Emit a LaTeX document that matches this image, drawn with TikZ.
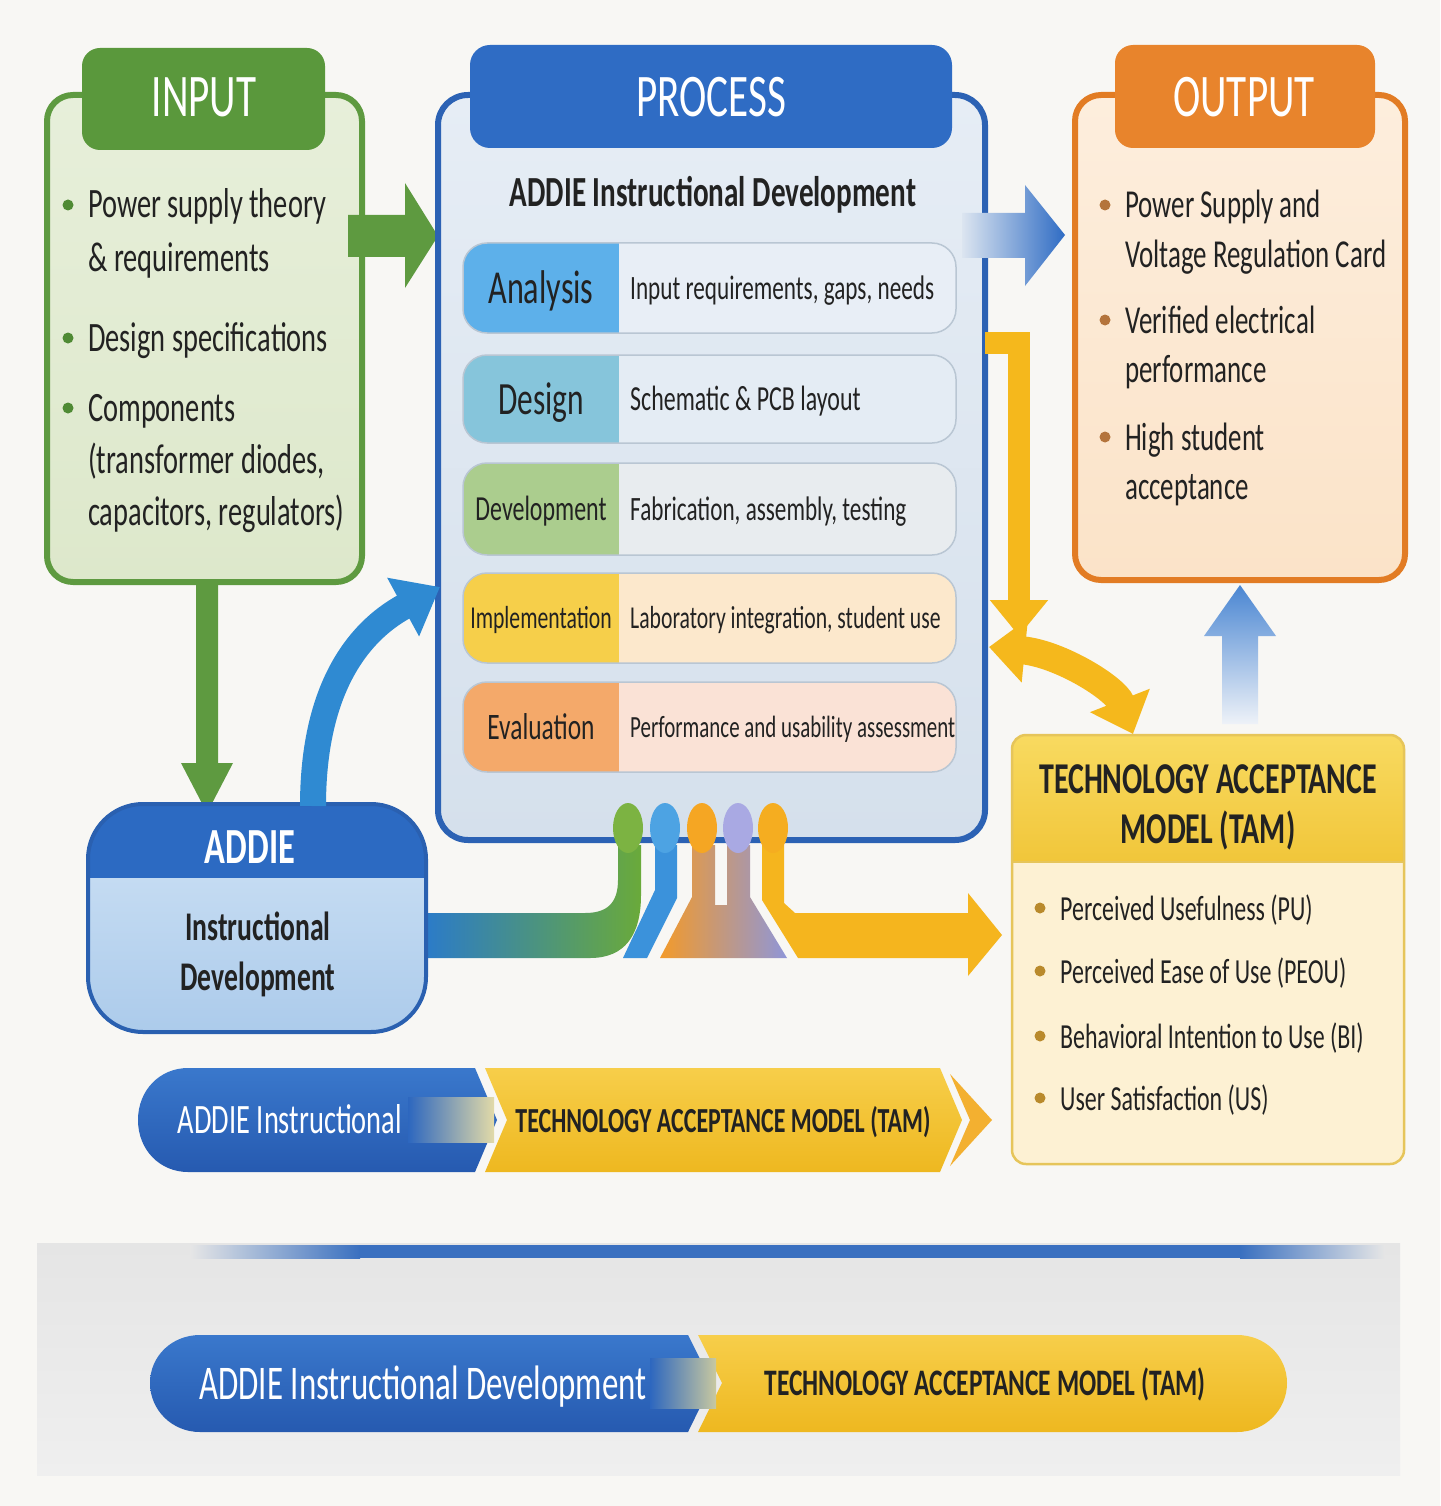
\documentclass[tikz,border=0pt]{standalone}
\usepackage{fontspec}
\setmainfont{Carlito}[FakeStretch=0.68]
\usetikzlibrary{arrows.meta}
\newcommand\fsz[1]{\fontsize{\fpeval{1.1*#1}}{\fpeval{1.1*#1}}\selectfont}
\definecolor{bg}{HTML}{F8F7F4}
\definecolor{ink}{HTML}{222222}
\definecolor{ingreen}{HTML}{5E9A40}
\definecolor{inhead}{HTML}{5A983C}
\definecolor{indot}{HTML}{4F8A34}
\definecolor{procline}{HTML}{2C62B4}
\definecolor{prochead}{HTML}{2F6CC4}
\definecolor{outline}{HTML}{E27C24}
\definecolor{outhead}{HTML}{E8842C}
\definecolor{outdot}{HTML}{B4743C}
\definecolor{yel}{HTML}{F5B81C}
\definecolor{tambody}{HTML}{FDF1D3}
\definecolor{tamborder}{HTML}{E6C55A}
\definecolor{tamdot}{HTML}{B98A2C}
\definecolor{banblue}{HTML}{2D67BF}
\definecolor{rowline}{HTML}{B9C6D3}
\definecolor{anaL}{HTML}{5DB0EA}\definecolor{anaR}{HTML}{E8EEF6}
\definecolor{desL}{HTML}{86C5DB}\definecolor{desR}{HTML}{E4ECF4}
\definecolor{devL}{HTML}{ABCD8E}\definecolor{devR}{HTML}{E8ECEF}
\definecolor{impL}{HTML}{F6CF4A}\definecolor{impR}{HTML}{FCE8CC}
\definecolor{evaL}{HTML}{F4A96A}\definecolor{evaR}{HTML}{FAE2D6}
\definecolor{addark}{HTML}{2C6AC2}
\definecolor{adline}{HTML}{2A60B0}
\definecolor{arrblue}{HTML}{2F8AD2}
\definecolor{inTop}{HTML}{E7EFDA}\definecolor{inBot}{HTML}{DDE8CB}
\definecolor{prTop}{HTML}{E6EDF5}\definecolor{prBot}{HTML}{D5E0EC}
\definecolor{ouTop}{HTML}{FDEEDD}\definecolor{ouBot}{HTML}{FBE3C8}
\definecolor{adTop}{HTML}{C4DBF2}\definecolor{adBot}{HTML}{ACCBEB}
\definecolor{bandBlue}{HTML}{2B7BC9}\definecolor{stGreen}{HTML}{6AAA3A}
\definecolor{stBlue}{HTML}{3B92DB}\definecolor{stOrange}{HTML}{F39A2A}
\definecolor{stLav}{HTML}{8F96D8}\definecolor{stAmber}{HTML}{F5B51E}
\definecolor{dGreen}{HTML}{7CB342}\definecolor{dBlue}{HTML}{4DA3E3}
\definecolor{dOrange}{HTML}{F5A623}\definecolor{dLav}{HTML}{A9A9E3}
\definecolor{dAmber}{HTML}{F5AD20}
\definecolor{arrLight}{HTML}{DCE5F0}\definecolor{arrDark}{HTML}{2F6CC4}
\definecolor{upTop}{HTML}{4A86D2}\definecolor{upBot}{HTML}{EEF2F8}
\definecolor{tamTop}{HTML}{F8DA60}\definecolor{tamBot}{HTML}{F1C63A}
\definecolor{bbTop}{HTML}{3A78CC}\definecolor{bbBot}{HTML}{265AB0}
\definecolor{byTop}{HTML}{F7CE4A}\definecolor{byBot}{HTML}{EEB820}
\definecolor{chev}{HTML}{F3B030}
\definecolor{fadeA}{HTML}{E2DAA8}\definecolor{fadeB}{HTML}{C8C8A0}
\definecolor{gTop}{HTML}{E5E5E5}\definecolor{gBot}{HTML}{EFEFEF}
\definecolor{gMid}{HTML}{E6E6E6}\definecolor{lineBlue}{HTML}{3A70C0}
\newcommand\procrow[9]{%
  \begin{scope}
    \clip[rounded corners=24pt] (463,#2) rectangle (956,#3);
    \fill[#5] (463,#2) rectangle (956,#3);
    \fill[#4] (463,#2) rectangle (619,#3);
  \end{scope}
  \draw[rowline, line width=1.5pt, rounded corners=24pt] (463,#2) rectangle (956,#3);
  \node[txt, anchor=base, font=\fsz{#7}] (#1l) at (541,{(#2+#3)/2+0.36*#7}) {#6};
  \node[txt, anchor=base west, font=\fsz{#9}] (#1t) at (630,{(#2+#3)/2+0.36*#9}) {#8};
}
\begin{document}
\begin{tikzpicture}[x=1pt,y=-1pt,
  txt/.style={inner sep=0pt, text=ink},
  wtxt/.style={inner sep=0pt, text=white},
  hdr/.style={inner sep=0pt, text=white, font=\fsz{55}},
  box/.style={inner sep=0pt, line width=6pt},
]
\useasboundingbox (0,0) rectangle (1440,1506);
\fill[bg] (0,0) rectangle (1440,1506);

% ---------------- INPUT
\node[box, draw=ingreen, rounded corners=26pt, top color=inTop, bottom color=inBot,
      minimum width=315pt, minimum height=487pt] (inbox) at (204.5,338.5) {};
\fill[inhead, rounded corners=18pt] (82,48) rectangle (325,150);
\node[hdr, anchor=base] (inhdr) at (204,117) {INPUT};
\foreach \yy in {205,338,408} \fill[indot] (68,\yy) circle (5.5);
\node[txt, anchor=base west, font=\fsz{38}] (in1a) at (88,218) {Power supply theory};
\node[txt, anchor=base west, font=\fsz{38}] (in1b) at (88,271) {\& requirements};
\node[txt, anchor=base west, font=\fsz{38}] (in2)  at (88,351) {Design specifications};
\node[txt, anchor=base west, font=\fsz{38}] (in3a) at (88,421) {Components};
\node[txt, anchor=base west, font=\fsz{38}] (in3b) at (88,473) {(transformer diodes,};
\node[txt, anchor=base west, font=\fsz{38}] (in3c) at (88,525) {capacitors, regulators)};

% green arrows
\fill[ingreen] (348,215) -- (405,215) -- (405,183) -- (438,236) -- (405,288) -- (405,257) -- (348,257) -- cycle;
\fill[ingreen] (196,580) -- (218,580) -- (218,763) -- (233,763) -- (207,813) -- (181,763) -- (196,763) -- cycle;

% ---------------- stems below process
\shade[left color=bandBlue, right color=stGreen]
  (618,845) -- (618,880) .. controls (618,905) and (605,913) .. (585,913) -- (425,913) -- (425,958)
  -- (590,958) .. controls (625,958) and (641,935) .. (641,895) -- (641,845) -- cycle;
\fill[stBlue] (655,845) -- (655,890) -- (623,958) -- (647,958) -- (677,898) -- (677,845) -- cycle;
\shade[left color=stOrange, right color=stLav]
  (692,845) -- (692,897) -- (660,958) -- (787,958) -- (750,897) -- (750,845) -- (727,845) -- (727,905) -- (715,905) -- (715,845) -- cycle;
\fill[stAmber] (762,845) -- (762,900) -- (798,958) -- (968,958) -- (968,976) -- (1002,935)
  -- (968,893) -- (968,913) -- (795,913) -- (784,903) -- (784,845) -- cycle;

% ---------------- PROCESS
\node[box, draw=procline, rounded corners=30pt, top color=prTop, bottom color=prBot,
      minimum width=547pt, minimum height=745pt] (procbox) at (711.5,467.5) {};
\fill[prochead, rounded corners=20pt] (470,45) rectangle (952,148);
\node[hdr, anchor=base] (prochdr) at (711,117) {PROCESS};
\node[txt, anchor=base, font=\fsz{39}\bfseries] (proctitle) at (713,207) {ADDIE Instructional Development};
\procrow{ana}{243}{333}{anaL}{anaR}{Analysis}{43}{Input requirements, gaps, needs}{31}
\procrow{des}{355}{443}{desL}{desR}{Design}{42}{Schematic \& PCB layout}{32}
\procrow{dev}{463}{555}{devL}{devR}{Development}{32}{Fabrication, assembly, testing}{31}
\procrow{imp}{573}{663}{impL}{impR}{Implementation}{29}{Laboratory integration, student use}{29}
\procrow{eva}{682}{772}{evaL}{evaR}{Evaluation}{34}{Performance and usability assessment}{28}

% connector dots
\fill[dGreen] (628,828) ellipse (15 and 25);
\fill[dBlue] (665,828) ellipse (15 and 25);
\fill[dOrange] (702,828) ellipse (15 and 25);
\fill[dLav] (738,828) ellipse (15 and 25);
\fill[dAmber] (773,828) ellipse (15 and 25);

% ---------------- ADDIE box
\begin{scope}
  \clip[rounded corners=55pt] (88,804) rectangle (426,1032);
  \shade[top color=adTop, bottom color=adBot] (88,878) rectangle (426,1032);
  \fill[addark] (88,804) rectangle (426,878);
\end{scope}
\draw[adline, line width=4pt, rounded corners=55pt] (88,804) rectangle (426,1032);
\node[wtxt, anchor=base, font=\fsz{46}\bfseries] (addiehdr) at (250,863) {ADDIE};
\node[txt, anchor=base, font=\fsz{37}\bfseries] (addie1) at (258,940) {Instructional};
\node[txt, anchor=base, font=\fsz{37}\bfseries] (addie2) at (258,990) {Development};

% blue curved arrow ADDIE -> process
\coordinate (bcs) at (313,806);
\coordinate (bce) at (440,587);
\draw[arrblue, line width=26pt, -{Triangle[length=42pt,width=64pt]}] (bcs) .. controls (313,700) and (350,636) .. (bce);

% ---------------- OUTPUT
\node[box, draw=outline, rounded corners=26pt, top color=ouTop, bottom color=ouBot,
      minimum width=330pt, minimum height=485pt] (outbox) at (1240,337.5) {};
\fill[outhead, rounded corners=18pt] (1115,45) rectangle (1375,148);
\node[hdr, anchor=base] (outhdr) at (1244,117) {OUTPUT};
\foreach \yy in {205,320,437} \fill[outdot] (1105,\yy) circle (5.5);
\node[txt, anchor=base west, font=\fsz{36}] (out1a) at (1125,218) {Power Supply and};
\node[txt, anchor=base west, font=\fsz{36}] (out1b) at (1125,268) {Voltage Regulation Card};
\node[txt, anchor=base west, font=\fsz{36}] (out2a) at (1125,333) {Verified electrical};
\node[txt, anchor=base west, font=\fsz{36}] (out2b) at (1125,382) {performance};
\node[txt, anchor=base west, font=\fsz{36}] (out3a) at (1125,450) {High student};
\node[txt, anchor=base west, font=\fsz{36}] (out3b) at (1125,499) {acceptance};

% blue arrow process -> output
\shade[left color=arrLight, right color=arrDark]
  (962,213) -- (1025,213) -- (1025,185) -- (1065,235) -- (1025,286) -- (1025,258) -- (962,258) -- cycle;

% yellow arrows
\coordinate (ys) at (985,343);
\coordinate (ye) at (1019,636);
\draw[yel, line width=22pt, -{Triangle[length=36pt,width=56pt]}] (ys) -- (1019,343) -- (ye);
\coordinate (ds) at (989,647);
\coordinate (de) at (1133,734);
\draw[yel, line width=28pt, {Triangle[length=36pt,width=62pt]}-{Triangle[length=36pt,width=62pt]}]
  (ds) .. controls (1060,654) and (1115,688) .. (de);

% up arrow TAM -> output
\shade[top color=upTop, bottom color=upBot]
  (1222,724) -- (1222,636) -- (1204,636) -- (1240,585) -- (1276,636) -- (1258,636) -- (1258,724) -- cycle;

% ---------------- TAM box
\fill[tambody, rounded corners=14pt] (1012,735) rectangle (1404,1164);
\begin{scope}
  \clip[rounded corners=14pt] (1012,735) rectangle (1404,1164);
  \shade[top color=tamTop, bottom color=tamBot] (1012,735) rectangle (1404,862);
\end{scope}
\draw[tamborder, line width=1.5pt] (1012,862) -- (1404,862);
\draw[tamborder, line width=2.5pt, rounded corners=14pt] (1012,735) rectangle (1404,1164);
\node[txt, anchor=base, font=\fsz{40}\bfseries] (tamh1) at (1208,793) {TECHNOLOGY ACCEPTANCE};
\node[txt, anchor=base, font=\fsz{40}\bfseries] (tamh2) at (1208,843) {MODEL (TAM)};
\foreach \yy in {908,971,1036,1098} \fill[tamdot] (1040,\yy) circle (5.5);
\node[txt, anchor=base west, font=\fsz{32}] (tam1) at (1060,920) {Perceived Usefulness (PU)};
\node[txt, anchor=base west, font=\fsz{32}] (tam2) at (1060,983) {Perceived Ease of Use (PEOU)};
\node[txt, anchor=base west, font=\fsz{32}] (tam3) at (1060,1048) {Behavioral Intention to Use (BI)};
\node[txt, anchor=base west, font=\fsz{32}] (tam4) at (1060,1110) {User Satisfaction (US)};

% ---------------- middle banner
\shade[top color=bbTop, bottom color=bbBot]
  (188,1068) -- (475,1068) -- (497,1120) -- (475,1172) -- (188,1172)
  .. controls (160,1172) and (138,1150) .. (138,1120) .. controls (138,1090) and (160,1068) .. (188,1068) -- cycle;
\shade[top color=byTop, bottom color=byBot]
  (485,1068) -- (940,1068) -- (962,1120) -- (940,1172) -- (485,1172) -- (507,1120) -- cycle;
\fill[chev] (950,1074) -- (992,1120) -- (950,1166) -- (970,1120) -- cycle;
\shade[left color=banblue, right color=fadeA] (408,1097) rectangle (494,1142);
\node[wtxt, anchor=base, font=\fsz{38}] (mid1) at (290,1133) {ADDIE Instructional};
\node[txt, anchor=base, font=\fsz{32}\bfseries] (mid2) at (723,1132) {TECHNOLOGY ACCEPTANCE MODEL (TAM)};

% ---------------- bottom band
\shade[top color=gTop, bottom color=gBot] (37,1243) rectangle (1400,1475);
\shade[left color=gMid, right color=lineBlue] (190,1245) rectangle (360,1258);
\fill[lineBlue] (359,1245) rectangle (1241,1258);
\shade[left color=lineBlue, right color=gMid] (1240,1245) rectangle (1385,1258);

\shade[top color=bbTop, bottom color=bbBot]
  (200,1335) -- (688,1335) -- (712,1383) -- (688,1432) -- (200,1432)
  .. controls (172,1432) and (150,1410) .. (150,1383) .. controls (150,1356) and (172,1335) .. (200,1335) -- cycle;
\shade[top color=byTop, bottom color=byBot]
  (698,1335) -- (1237,1335) .. controls (1265,1335) and (1287,1356) .. (1287,1383)
  .. controls (1287,1410) and (1265,1432) .. (1237,1432) -- (698,1432) -- (722,1383) -- cycle;
\shade[left color=banblue, right color=fadeB] (650,1358) rectangle (716,1408);
\node[wtxt, anchor=base, font=\fsz{44}] (bot1) at (423,1399) {ADDIE Instructional Development};
\node[txt, anchor=base, font=\fsz{34}\bfseries] (bot2) at (985,1395) {TECHNOLOGY ACCEPTANCE MODEL (TAM)};
\end{tikzpicture}
\end{document}
